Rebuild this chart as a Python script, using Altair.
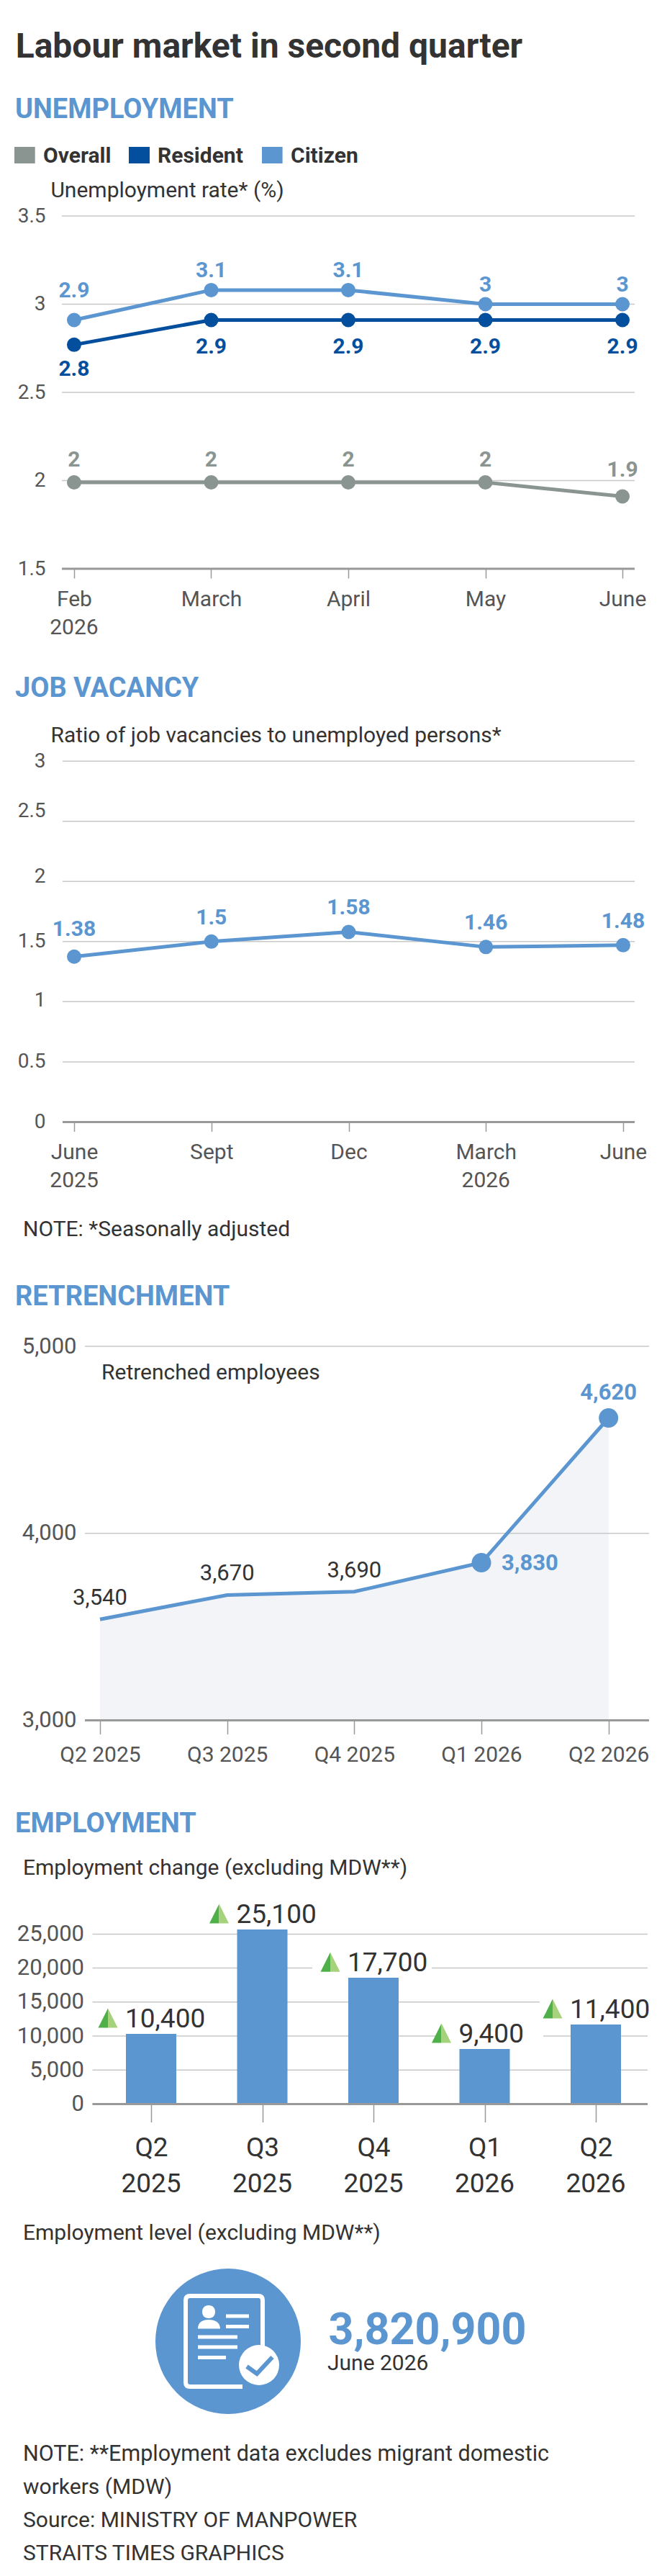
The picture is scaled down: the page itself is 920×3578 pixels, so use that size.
import altair as alt
import pandas as pd

FONT = "Roboto"
BLUE = "#5b96d0"
NAVY = "#034f9d"
GREY = "#8a9490"
DARK = "#333333"
AXIS = "#555555"
GRID = "#c8c8c8"
BASE = "#999999"
W = 904

# ---------- data ----------
months = ["Feb 2026", "March", "April", "May", "June"]
overall = [1.99, 1.99, 1.99, 1.99, 1.91]
resident = [2.77, 2.91, 2.91, 2.91, 2.91]
citizen = [2.91, 3.08, 3.08, 3.0, 3.0]
overall_lab = ["2", "2", "2", "2", "1.9"]
resident_lab = ["2.8", "2.9", "2.9", "2.9", "2.9"]
citizen_lab = ["2.9", "3.1", "3.1", "3", "3"]
unemp_ticks = [1.5, 2, 2.5, 3, 3.5]

vac_periods = ["June 2025", "Sept", "Dec", "March 2026", "June 2026"]
vac_values = [1.375, 1.5, 1.58, 1.455, 1.47]
vac_labels = ["1.38", "1.5", "1.58", "1.46", "1.48"]
vac_ticks = [0, 0.5, 1, 1.5, 2, 2.5, 3]

quarters = ["Q2 2025", "Q3 2025", "Q4 2025", "Q1 2026", "Q2 2026"]
ret_values = [3540, 3670, 3688, 3843, 4617]
ret_labels = ["3,540", "3,670", "3,690", "3,830", "4,620"]
ret_ticks = [3000, 4000, 5000]

emp_bars = [10330, 25680, 18570, 8090, 11690]
emp_labels = ["10,400", "25,100", "17,700", "9,400", "11,400"]
emp_ticks = [0, 5000, 10000, 15000, 20000, 25000]

DOC_OUTLINE = "M48,10L48,-57Q48,-63,42,-63L-53,-63Q-59,-63,-59,-57L-59,57Q-59,63,-53,63L20,63"
DOC_LINES = "M-3,-35L29,-35M-3,-20.5L29,-20.5M-42,-6L13,-6M-42,8L13,8M-42,22.6L-3,22.6"
PERSON = ("M-27,-50C-21,-50,-18,-46,-18,-41C-18,-36,-21,-32,-27,-32C-33,-32,-36,-36,-36,-41"
          "C-36,-46,-33,-50,-27,-50ZM-42,-17.5C-42,-26,-36,-30,-27,-30C-18,-30,-11,-26,-11,-17.5Z")
CHECK = "M26,35L40,45L61.5,22"
TRI_L = "M0,-1L-1,1L0,1Z"
TRI_R = "M0,-1L1,1L0,1Z"
FIRST_WORD = "split(datum.label,' ')[0]"


# ---------- helpers ----------
def txt(s, x, y, size=30, color=DARK, weight=400, align="left"):
    return alt.Chart(alt.Data(values=[{"t": s}])).mark_text(
        font=FONT, fontSize=size, color=color, fontWeight=weight, align=align,
        baseline="alphabetic",
    ).encode(x=alt.value(x), y=alt.value(y), text="t:N")


def xenc(field, cats, x0, x1, pad, H, base, tick, drop=51, size=30, color=AXIS, expr=FIRST_WORD):
    return alt.X(
        f"{field}:N",
        scale=alt.Scale(type="point", domain=cats, range=[x0, x1], padding=pad),
        axis=alt.Axis(
            title=None, domain=False, grid=False, labelAngle=0, tickColor=BASE,
            tickSize=tick, tickWidth=1.5, labelFont=FONT, labelFontSize=size,
            labelColor=color, labelBaseline="alphabetic", labelPadding=drop - tick,
            labelExpr=expr, offset=base - H,
            labelOverlap=False, labelFlush=False, labelBound=False,
        ),
    )


def yscale(domain, y_bottom, y_top):
    return alt.Scale(domain=domain, range=[y_bottom, y_top], nice=False, zero=False)


def grid(vals, sc, x0, x1, ax):
    d = pd.DataFrame({"v": vals})
    g = alt.Chart(d).mark_rule(color=GRID, strokeWidth=1.5).encode(
        y=alt.Y("v:Q", scale=sc, axis=ax), x=alt.value(x0), x2=alt.value(x1))
    b = alt.Chart(pd.DataFrame({"v": [min(vals)]})).mark_rule(color=BASE, strokeWidth=3).encode(
        y=alt.Y("v:Q", scale=sc), x=alt.value(x0), x2=alt.value(x1))
    return [g, b]


def yaxis(vals, x0, fmt, pad=23, size=28, label_offset=None):
    kw = {}
    if label_offset:
        kw["labelOffset"] = alt.expr(label_offset)
    return alt.Axis(title=None, values=vals, domain=False, ticks=False, grid=False, format=fmt,
                    labelFont=FONT, labelFontSize=size, labelColor=AXIS, labelPadding=pad,
                    offset=-x0, labelOverlap=False, labelBound=False, labelFlush=False, **kw)


def series(df, x, sc, color, size=400):
    base = alt.Chart(df).encode(x=x, y=alt.Y("v:Q", scale=sc))
    return [base.mark_line(color=color, strokeWidth=5),
            base.mark_point(color=color, filled=True, opacity=1, size=size)]


def labels(df, x, sc, color, dy, weight=700, size=30, dx=0, align="center"):
    return alt.Chart(df).mark_text(font=FONT, fontSize=size, fontWeight=weight, color=color,
                                   dy=dy, dx=dx, align=align, baseline="alphabetic").encode(
        x=x, y=alt.Y("v:Q", scale=sc), text="lab:N")


def year_labels(field, df, x, y, size=30, color=AXIS):
    d = df.copy()
    d["yr"] = d[field].str.split(" ").str[1]
    d = d.dropna(subset=["yr"])
    return alt.Chart(d).mark_text(font=FONT, fontSize=size, color=color, align="center",
                                  baseline="alphabetic").encode(x=x, y=alt.value(y), text="yr:N")


def swatch(x0, x1, y0, y1, color):
    return alt.Chart(alt.Data(values=[{"a": 1}])).mark_rect(color=color).encode(
        x=alt.value(x0), x2=alt.value(x1), y=alt.value(y0), y2=alt.value(y1))


def heading(s, y):
    return txt(s, 13, y, size=38, color=BLUE, weight=700)


# ---------- panel 1 ----------
T1, H1 = 8, 892
sc1 = yscale([1.5, 3.5], 790 - T1, 300 - T1)
x1 = xenc("m", months, 78, 874, 0.089, H1, 790 - T1, 13)
d_o = pd.DataFrame({"m": months, "v": overall, "lab": overall_lab})
d_r = pd.DataFrame({"m": months, "v": resident, "lab": resident_lab})
d_c = pd.DataFrame({"m": months, "v": citizen, "lab": citizen_lab})
layers1 = grid(unemp_ticks, sc1, 78, 874, yaxis(unemp_ticks, 78, "~g"))
layers1 += series(d_o, x1, sc1, GREY) + series(d_r, x1, sc1, NAVY) + series(d_c, x1, sc1, BLUE)
layers1 += [
    labels(d_c.iloc[:1], x1, sc1, BLUE, -32), labels(d_c.iloc[1:], x1, sc1, BLUE, -18),
    labels(d_r.iloc[:1], x1, sc1, NAVY, 43), labels(d_r.iloc[1:], x1, sc1, NAVY, 46),
    labels(d_o.iloc[:4], x1, sc1, GREY, -22), labels(d_o.iloc[4:], x1, sc1, GREY, -28),
    year_labels("m", d_o, x1, 881 - T1),
    txt("Labour market in second quarter", 13.7, 80 - T1, size=48, weight=700),
    heading("UNEMPLOYMENT", 163.6 - T1),
    swatch(12, 40.7, 204 - T1, 227 - T1, GREY), txt("Overall", 52, 225.6 - T1, size=30, weight=700),
    swatch(171, 200, 204 - T1, 227 - T1, NAVY), txt("Resident", 211, 225.6 - T1, size=30, weight=700),
    swatch(356, 384.6, 204 - T1, 227 - T1, BLUE), txt("Citizen", 396, 225.6 - T1, size=30, weight=700),
    txt("Unemployment rate* (%)", 62.4, 274.4 - T1),
]
p1 = alt.layer(*layers1).properties(width=W, height=H1)

# ---------- panel 2 ----------
T2, H2 = 900, 830
sc2 = yscale([0, 3], 1558.4 - T2, 1057.3 - T2)
x2 = xenc("m", vac_periods, 79, 874, 0.084, H2, 1558.4 - T2, 13)
d_v = pd.DataFrame({"m": vac_periods, "v": vac_values, "lab": vac_labels})
offs = "datum.value==2.5?-14:datum.value==2?-7:datum.value==1?-2:0"
layers2 = grid(vac_ticks, sc2, 79, 874, yaxis(vac_ticks, 79, "~g", pad=24, label_offset=offs))
layers2 += series(d_v, x2, sc2, BLUE)
layers2 += [
    labels(d_v.iloc[:1], x2, sc2, BLUE, -29), labels(d_v.iloc[1:], x2, sc2, BLUE, -24),
    year_labels("m", d_v.iloc[:4], x2, 1649 - T2),
    heading("JOB VACANCY", 967.7 - T2),
    txt("Ratio of job vacancies to unemployed persons*", 62.4, 1030.9 - T2),
    txt("NOTE: *Seasonally adjusted", 24, 1716.8 - T2),
]
p2 = alt.layer(*layers2).properties(width=W, height=H2)

# ---------- panel 3 ----------
T3, H3 = 1730, 760
sc3 = yscale([3000, 5000], 2389.5 - T3, 1870 - T3)
x3 = xenc("m", quarters, 131, 837.7, 0, H3, 2389.5 - T3, 19, drop=57, expr="datum.label")
d_t = pd.DataFrame({"m": quarters, "v": ret_values, "lab": ret_labels, "b": [ret_ticks[0]] * 5})
layers3 = [alt.Chart(d_t).mark_area(color="#f2f4f7").encode(
    x=x3, y=alt.Y("v:Q", scale=sc3), y2="b:Q")]
layers3 += grid(ret_ticks, sc3, 110, 894, yaxis(ret_ticks, 110, ",.0f", pad=12, size=31))
layers3 += [
    alt.Chart(d_t).mark_line(color=BLUE, strokeWidth=5).encode(x=x3, y=alt.Y("v:Q", scale=sc3)),
    alt.Chart(d_t.iloc[3:]).mark_point(color=BLUE, filled=True, opacity=1, size=729).encode(
        x=x3, y=alt.Y("v:Q", scale=sc3)),
    labels(d_t.iloc[:3], x3, sc3, DARK, -20, weight=400, size=31),
    labels(d_t.iloc[3:4], x3, sc3, BLUE, 10, size=31, dx=28, align="left"),
    labels(d_t.iloc[4:], x3, sc3, BLUE, -25.5, size=31),
    heading("RETRENCHMENT", 1812.8 - T3),
    txt("Retrenched employees", 133, 1916.3 - T3),
]
p3 = alt.layer(*layers3).properties(width=W, height=H3)

# ---------- panel 4 ----------
T4, H4 = 2490, 570
sc4 = yscale([0, 25000], 2922.5 - T4, 2686.4 - T4)
x4 = xenc("m", quarters, 202, 820, 0, H4, 2922.5 - T4, 25, drop=72, size=37, color=DARK)
d_e = pd.DataFrame({"m": quarters, "v": emp_bars, "lab": emp_labels})
ey = alt.Y("v:Q", scale=sc4)
layers4 = grid(emp_ticks, sc4, 120.5, 892, yaxis(emp_ticks, 120.5, ",.0f", pad=12, size=31))
layers4 = [layers4[0]]
layers4 += [
    swatch(426, 592, 2705 - T4, 2745 - T4, "#ffffff"),
    swatch(597, 747, 2815 - T4, 2850 - T4, "#ffffff"),
    swatch(742, 900, 2765 - T4, 2800 - T4, "#ffffff"),
    alt.Chart(d_e).mark_bar(size=70, color=BLUE).encode(x=x4, y=ey),
    alt.Chart(pd.DataFrame({"v": [0]})).mark_rule(color=BASE, strokeWidth=3).encode(
        y=alt.Y("v:Q", scale=sc4), x=alt.value(120.5), x2=alt.value(892)),
    alt.Chart(d_e).mark_text(font=FONT, fontSize=37, color=DARK, align="left",
                             baseline="alphabetic", dx=-36, dy=-9).encode(x=x4, y=ey, text="lab:N"),
    alt.Chart(d_e).mark_point(shape=TRI_L, size=729, filled=True, opacity=1, color="#4fb04a",
                              xOffset=-60, yOffset=-22).encode(x=x4, y=ey),
    alt.Chart(d_e).mark_point(shape=TRI_R, size=729, filled=True, opacity=1, color="#a6d27c",
                              xOffset=-60, yOffset=-22).encode(x=x4, y=ey),
    year_labels("m", d_e, x4, 3044.6 - T4, size=37, color=DARK),
    heading("EMPLOYMENT", 2544.6 - T4),
    txt("Employment change (excluding MDW**)", 24, 2604 - T4),
]
p4 = alt.layer(*layers4).properties(width=W, height=H4)

# ---------- panel 5 ----------
T5, H5 = 3060, 510
CX, CY = 317 - 8, 3252 - T5


def icon(path, size=4, fill=None, stroke=None, sw=0, x=CX, y=CY):
    kw = {"shape": path, "size": size, "opacity": 1}
    if fill:
        kw.update(filled=True, fill=fill)
    else:
        kw.update(filled=False, fillOpacity=0)
    if stroke:
        kw.update(stroke=stroke, strokeWidth=sw)
    return alt.Chart(alt.Data(values=[{"a": 1}])).mark_point(**kw).encode(
        x=alt.value(x), y=alt.value(y))


layers5 = [
    txt("Employment level (excluding MDW**)", 24, 3110.6 - T5),
    icon("circle", size=40804, fill=BLUE),
    icon(DOC_OUTLINE, stroke="#ffffff", sw=6),
    icon(DOC_LINES, stroke="#ffffff", sw=5),
    icon(PERSON, fill="#ffffff"),
    icon("circle", size=3136, fill="#ffffff", x=CX + 43, y=CY + 33),
    icon(CHECK, stroke=BLUE, sw=6),
    txt("3,820,900", 448.6, 3256 - T5, size=61, color=BLUE, weight=700),
    txt("June 2026", 447, 3291.7 - T5, size=30),
    txt("NOTE: **Employment data excludes migrant domestic", 24, 3417.7 - T5, size=30.5),
    txt("workers (MDW)", 24, 3463.5 - T5),
    txt("Source: MINISTRY OF MANPOWER", 24, 3509.6 - T5),
    txt("STRAITS TIMES GRAPHICS", 24, 3555.7 - T5),
]
p5 = alt.layer(*layers5).properties(width=W, height=H5)

chart = alt.vconcat(p1, p2, p3, p4, p5, spacing=0, padding=0, background="white").configure_view(
    stroke=None).configure_concat(spacing=0)

chart.save("out.html", embed_options={"renderer": "svg", "actions": False})
